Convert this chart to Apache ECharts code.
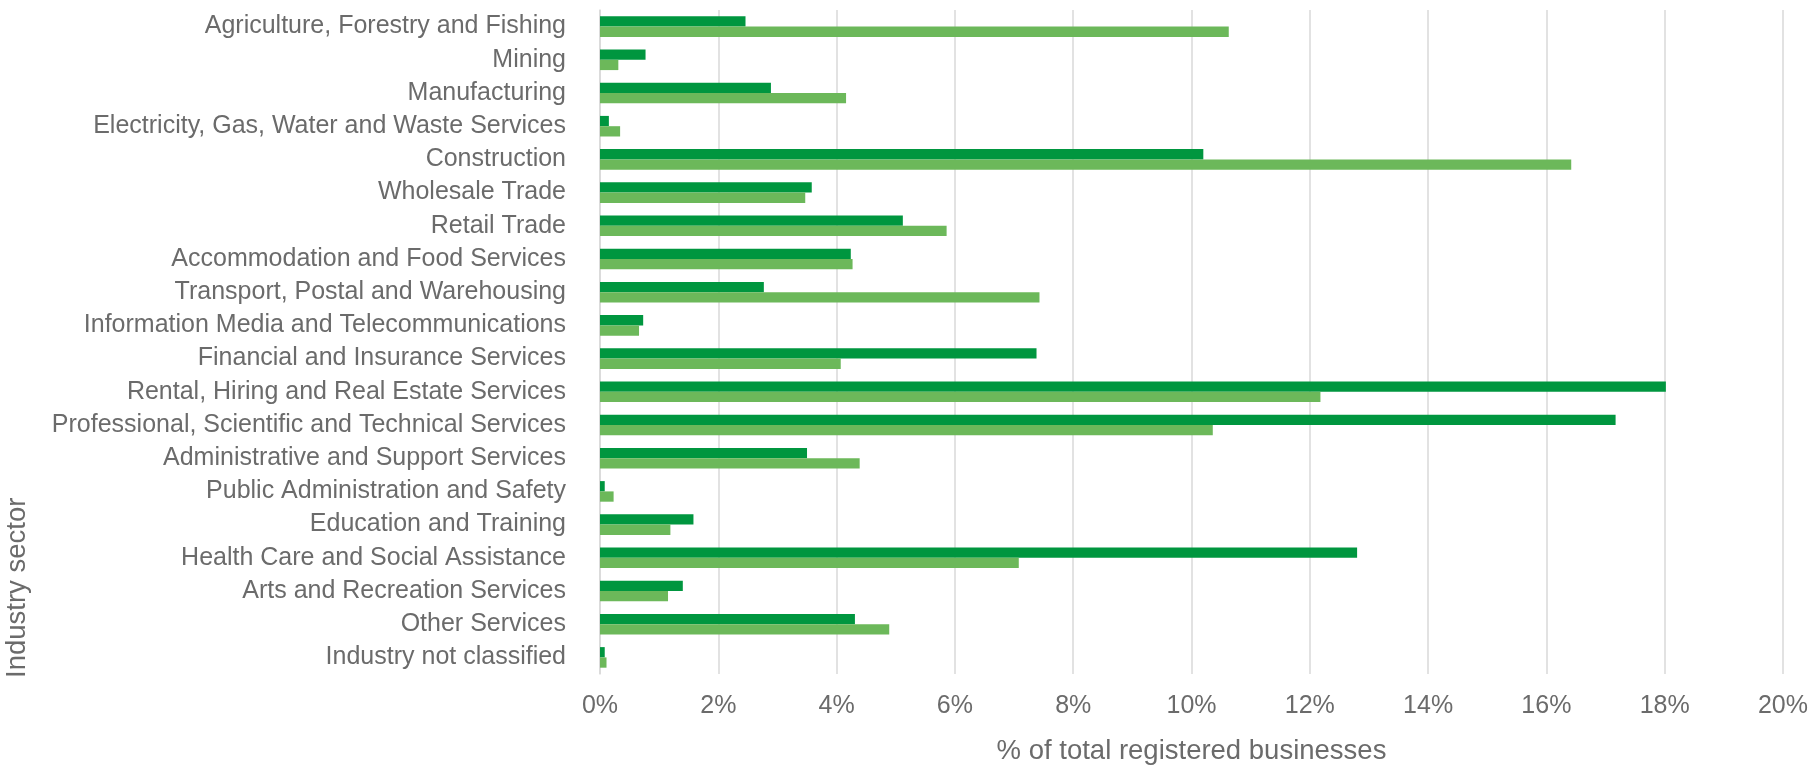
<!DOCTYPE html>
<html>
<head>
<meta charset="utf-8">
<script src="https://cdn.jsdelivr.net/npm/echarts@6/dist/echarts.min.js"></script>
<style>
html,body{margin:0;padding:0;background:#fff;}
#chart{width:1811px;height:770px;}
</style>
</head>
<body>
<div id="chart"></div>
<script>
const categories = [
  "Agriculture, Forestry and Fishing",
  "Mining",
  "Manufacturing",
  "Electricity, Gas, Water and Waste Services",
  "Construction",
  "Wholesale Trade",
  "Retail Trade",
  "Accommodation and Food Services",
  "Transport, Postal and Warehousing",
  "Information Media and Telecommunications",
  "Financial and Insurance Services",
  "Rental, Hiring and Real Estate Services",
  "Professional, Scientific and Technical Services",
  "Administrative and Support Services",
  "Public Administration and Safety",
  "Education and Training",
  "Health Care and Social Assistance",
  "Arts and Recreation Services",
  "Other Services",
  "Industry not classified"
];
const seriesDark = [2.46, 0.77, 2.89, 0.15, 10.20, 3.58, 5.12, 4.24, 2.77, 0.73, 7.38, 18.02, 17.17, 3.50, 0.08, 1.58, 12.80, 1.40, 4.31, 0.08];
const seriesLight = [10.63, 0.31, 4.16, 0.34, 16.42, 3.47, 5.86, 4.27, 7.43, 0.66, 4.07, 12.18, 10.36, 4.39, 0.23, 1.19, 7.08, 1.15, 4.89, 0.11];
const xTicks = [0, 2, 4, 6, 8, 10, 12, 14, 16, 18, 20];
const xAxisTitle = '% of total registered businesses';
const yAxisTitle = 'Industry sector';

const chart = echarts.init(document.getElementById('chart'));
const textColor = '#6b6b6b';
const font = 'Liberation Sans, Arial, sans-serif';
chart.setOption({
  animation: false,
  backgroundColor: '#ffffff',
  grid: { left: 600, right: 11, top: 10, bottom: 93, containLabel: false },
  graphic: [{
    type: 'text',
    x: 17,
    y: 678,
    rotation: Math.PI / 2,
    style: {
      text: yAxisTitle,
      fill: textColor,
      font: '27.5px ' + font,
      textAlign: 'left',
      textVerticalAlign: 'middle'
    }
  }],
  xAxis: {
    type: 'value',
    min: xTicks[0],
    max: xTicks[xTicks.length - 1],
    interval: 2,
    name: xAxisTitle,
    nameLocation: 'middle',
    nameGap: 63,
    nameTextStyle: { color: textColor, fontSize: 27.5, fontFamily: font },
    axisLine: { show: false },
    axisTick: { show: false },
    axisLabel: { color: textColor, fontSize: 25, fontFamily: font, margin: 20, formatter: v => v + '%' },
    splitLine: { show: true, lineStyle: { color: '#d9d9d9', width: 1.5 } }
  },
  yAxis: {
    type: 'category',
    data: categories,
    inverse: true,
    axisLine: { show: true, lineStyle: { color: '#d9d9d9', width: 1.5 } },
    axisTick: { show: false },
    axisLabel: { color: textColor, fontSize: 25, fontFamily: font, margin: 34, interval: 0 }
  },
  series: [
    {
      name: 'Dark',
      type: 'bar',
      data: seriesDark,
      itemStyle: { color: '#00963f' },
      barGap: '0%',
      barCategoryGap: '38%'
    },
    {
      name: 'Light',
      type: 'bar',
      data: seriesLight,
      itemStyle: { color: '#6cb85a' },
      barGap: '0%',
      barCategoryGap: '38%'
    }
  ]
});
</script>
</body>
</html>
